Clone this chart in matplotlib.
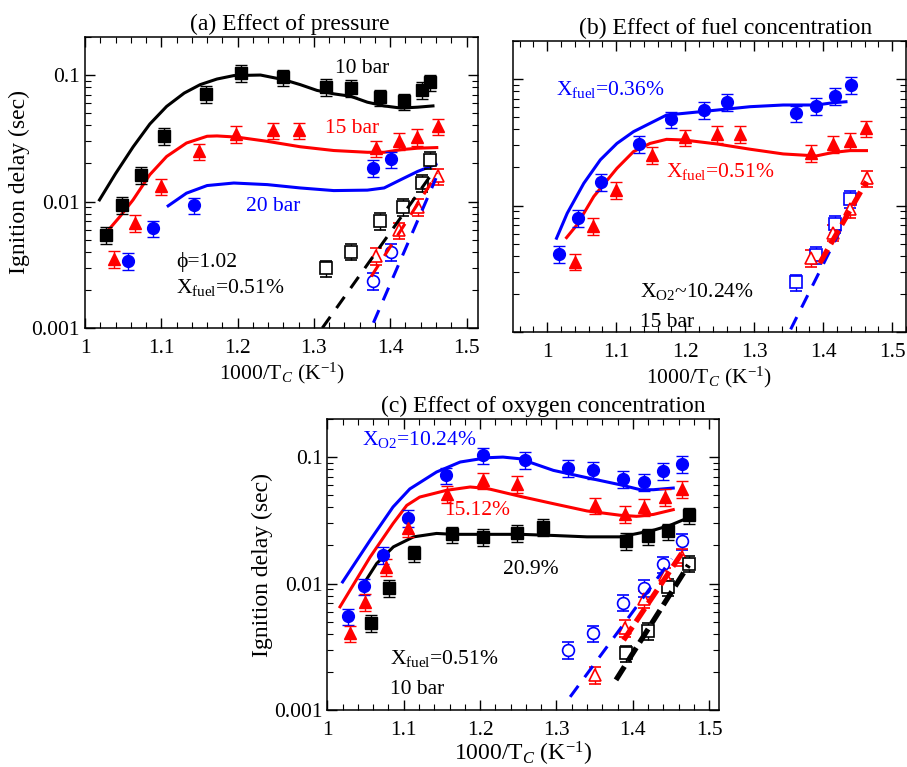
import matplotlib
matplotlib.use('Agg')
import matplotlib.pyplot as plt
import numpy as np
from matplotlib.ticker import MultipleLocator, LogLocator, NullFormatter, FixedLocator

plt.rcParams.update({
    'font.family': ['Liberation Serif', 'DejaVu Serif'],
    'font.size': 15.5,
    'mathtext.fontset': 'custom',
    'mathtext.rm': 'Liberation Serif',
    'mathtext.it': 'Liberation Serif:italic',
})

# ---- (a) Effect of pressure ----
a10_x = [1.027, 1.048, 1.074, 1.104, 1.158, 1.204, 1.260, 1.316, 1.349, 1.387, 1.4175, 1.441, 1.452]
a10_y = [0.00544, 0.0094, 0.0163, 0.033, 0.071, 0.104, 0.096, 0.081, 0.079, 0.0665, 0.062, 0.0765, 0.0875]
a15_x = [1.038, 1.065, 1.099, 1.150, 1.198, 1.246, 1.280, 1.3816, 1.411, 1.435, 1.463]
a15_y = [0.0035, 0.00675, 0.01315, 0.0249, 0.0341, 0.0365, 0.0365, 0.0264, 0.0302, 0.0323, 0.0393]
a20_x = [1.057, 1.089, 1.1425, 1.377, 1.401]
a20_y = [0.00339, 0.00615, 0.0093, 0.01836, 0.0216]
a10_lo_x = [1.316, 1.348, 1.387, 1.417, 1.441, 1.452]
a10_lo_y = [0.00297, 0.00402, 0.00703, 0.0091, 0.0141, 0.0214]
a15_lo_x = [1.382, 1.411, 1.436, 1.463]
a15_lo_y = [0.00372, 0.00593, 0.00908, 0.0158]
a20_lo_x = [1.377, 1.401]
a20_lo_y = [0.00237, 0.0040]

a10_sim_x = [1.019, 1.04, 1.063, 1.085, 1.107, 1.13, 1.151, 1.173, 1.195, 1.23, 1.26, 1.282, 1.304, 1.326, 1.348, 1.37, 1.392, 1.414, 1.436, 1.456]
a10_sim_y = [0.0103, 0.0166, 0.027, 0.041, 0.0565, 0.072, 0.084, 0.093, 0.099, 0.100, 0.092, 0.084, 0.0756, 0.071, 0.068, 0.061, 0.057, 0.0548, 0.0557, 0.057]
a15_sim_x = [1.027, 1.045, 1.063, 1.085, 1.107, 1.133, 1.16, 1.173, 1.199, 1.239, 1.282, 1.326, 1.37, 1.392, 1.414, 1.436, 1.461]
a15_sim_y = [0.0056, 0.0075, 0.0103, 0.0163, 0.0227, 0.029, 0.0328, 0.033, 0.0323, 0.0299, 0.0271, 0.0253, 0.0245, 0.0245, 0.0257, 0.0264, 0.0267]
a20_sim_x = [1.109, 1.133, 1.16, 1.195, 1.239, 1.282, 1.326, 1.37, 1.392, 1.414, 1.436, 1.46]
a20_sim_y = [0.00924, 0.01164, 0.01337, 0.014, 0.0136, 0.0128, 0.0122, 0.0123, 0.0128, 0.0149, 0.0173, 0.0197]
a10_lt_x = [1.311, 1.458]
a10_lt_y = [0.001, 0.0177]
a15_lt_x = [1.375, 1.462]
a15_lt_y = [0.00255, 0.0168]
a20_lt_x = [1.378, 1.46]
a20_lt_y = [0.0011, 0.0153]

# ---- (b) Effect of fuel concentration ----
b36_x = [1.017, 1.045, 1.0776, 1.1325, 1.179, 1.2265, 1.26, 1.361, 1.39, 1.4166, 1.44]
b36_y = [0.00415, 0.00803, 0.01545, 0.0307, 0.0481, 0.0569, 0.0662, 0.0536, 0.0612, 0.0738, 0.0897]
b51_x = [1.04, 1.0665, 1.10, 1.152, 1.20, 1.246, 1.28, 1.383, 1.4135, 1.4386, 1.4627]
b51_y = [0.00361, 0.00692, 0.0133, 0.0251, 0.0346, 0.0368, 0.0368, 0.0262, 0.0307, 0.0326, 0.0408]
b36_lo_x = [1.3605, 1.39, 1.4169, 1.4395]
b36_lo_y = [0.00247, 0.00408, 0.00716, 0.0113]
b51_lo_x = [1.383, 1.4135, 1.4386, 1.464]
b51_lo_y = [0.00384, 0.00612, 0.00935, 0.0164]

b36_sim_x = [1.0135, 1.029, 1.053, 1.077, 1.101, 1.125, 1.149, 1.173, 1.198, 1.246, 1.294, 1.342, 1.39, 1.414, 1.433]
b36_sim_y = [0.00552, 0.0087, 0.015, 0.023, 0.031, 0.0384, 0.0447, 0.052, 0.0536, 0.0569, 0.0605, 0.0624, 0.0624, 0.065, 0.0662]
b51_sim_x = [1.028, 1.043, 1.0675, 1.101, 1.125, 1.149, 1.173, 1.198, 1.246, 1.294, 1.342, 1.39, 1.414, 1.439, 1.4627]
b51_sim_y = [0.00558, 0.00703, 0.0118, 0.0197, 0.0267, 0.031, 0.0334, 0.033, 0.0307, 0.0279, 0.0256, 0.0247, 0.0263, 0.0272, 0.0272]
b36_lt_x = [1.3528, 1.4347]
b36_lt_y = [0.00105, 0.0082]
b51_lt_x = [1.395, 1.4627]
b51_lt_y = [0.0035, 0.0155]

# ---- (c) Effect of oxygen concentration ----
c10_x = [1.0266, 1.048, 1.0734, 1.106, 1.156, 1.204, 1.259, 1.3157, 1.3485, 1.387, 1.415, 1.439, 1.464]
c10_y = [0.00552, 0.00953, 0.0168, 0.0332, 0.0716, 0.103, 0.0953, 0.0819, 0.0794, 0.0674, 0.0635, 0.0776, 0.0885]
c15_x = [1.0297, 1.049, 1.0764, 1.106, 1.157, 1.204, 1.249, 1.3507, 1.39, 1.415, 1.442, 1.464]
c15_y = [0.00403, 0.00713, 0.01355, 0.0275, 0.0512, 0.0655, 0.0616, 0.0415, 0.0357, 0.0403, 0.0483, 0.0562]
c21_x = [1.0572, 1.0812, 1.1135, 1.163, 1.204, 1.248, 1.282, 1.391, 1.4205, 1.446, 1.473]
c21_y = [0.0049, 0.00924, 0.0173, 0.0245, 0.0234, 0.0251, 0.028, 0.0217, 0.0236, 0.0259, 0.0347]
c10_lo_x = [1.3157, 1.3485, 1.387, 1.415, 1.439, 1.464]
c10_lo_y = [0.00298, 0.00403, 0.00708, 0.00924, 0.0142, 0.0216]
c15_lo_x = [1.3507, 1.39, 1.415, 1.442, 1.464]
c15_lo_y = [0.00189, 0.00447, 0.0076, 0.01164, 0.0162]
c21_lo_x = [1.391, 1.4205, 1.446, 1.473]
c21_lo_y = [0.0028, 0.00423, 0.0094, 0.0144]

c10_sim_x = [1.02, 1.056, 1.086, 1.108, 1.143, 1.174, 1.209, 1.23, 1.252, 1.296, 1.34, 1.383, 1.41, 1.427, 1.453]
c10_sim_y = [0.0103, 0.022, 0.0403, 0.056, 0.0762, 0.0914, 0.0988, 0.100, 0.097, 0.0785, 0.0687, 0.0605, 0.0552, 0.0552, 0.0569]
c15_sim_x = [1.0166, 1.056, 1.086, 1.104, 1.121, 1.156, 1.187, 1.209, 1.252, 1.296, 1.34, 1.383, 1.405, 1.427, 1.453]
c15_sim_y = [0.00655, 0.0162, 0.0298, 0.0415, 0.0483, 0.0546, 0.058, 0.0565, 0.049, 0.0428, 0.0375, 0.0347, 0.034, 0.0352, 0.0384]
c21_sim_x = [1.045, 1.0646, 1.0865, 1.113, 1.143, 1.165, 1.209, 1.253, 1.296, 1.34, 1.383, 1.405, 1.427, 1.449, 1.475]
c21_sim_y = [0.0094, 0.0144, 0.0195, 0.0234, 0.0249, 0.0245, 0.0245, 0.0245, 0.024, 0.0234, 0.0234, 0.0248, 0.0264, 0.0289, 0.0336]
c10_lt_x = [1.318, 1.451]
c10_lt_y = [0.00127, 0.0157]
c15_lt_x = [1.388, 1.464]
c15_lt_y = [0.00357, 0.0173]
c21_lt_x = [1.378, 1.473]
c21_lt_y = [0.00173, 0.014]

BLUE = '#0000ff'
RED = '#ff0000'
BLACK = '#000000'
XLABEL = r'1000/T$_{C}$ (K$^{\mathregular{-1}}$)'


def pts(ax, x, y, marker, color, filled=True):
    y = np.asarray(y)
    ax.errorbar(x, y, yerr=0.15 * y, fmt=marker, color=color, ecolor=color,
                mfc=color if filled else 'white', mec=color,
                ms=9 if marker != 'o' else 8.5, mew=1.0 if filled else 1.2,
                capsize=4, elinewidth=1, capthick=1, zorder=3)


def sim(ax, x, y, color):
    ax.plot(x, y, '-', color=color, lw=2.2, zorder=2)


def low(ax, x, y, color, thick=False):
    if thick:
        ax.plot(x, y, '--', color=color, lw=3.8, dashes=(3.0, 1.2), zorder=4)
    else:
        ax.plot(x, y, '--', color=color, lw=2.2, dashes=(4.5, 3.5), zorder=4)


def style(ax, xmin, xmax, ylabels=True, xlabel_size=15.5, xlabel_pad=2):
    ax.set_yscale('log')
    ax.set_xlim(xmin, xmax)
    ax.set_ylim(0.001, 0.2)
    ax.xaxis.set_major_locator(FixedLocator([1.0, 1.1, 1.2, 1.3, 1.4, 1.5]))
    ax.xaxis.set_minor_locator(MultipleLocator(0.02))
    ax.yaxis.set_major_locator(FixedLocator([0.001, 0.01, 0.1]))
    ax.yaxis.set_minor_locator(LogLocator(base=10, subs=np.arange(2, 10)))
    ax.yaxis.set_minor_formatter(NullFormatter())
    ax.set_xticklabels(['1', '1.1', '1.2', '1.3', '1.4', '1.5'])
    if ylabels:
        ax.set_yticklabels(['0.001', '0.01', '0.1'])
        ax.set_ylabel('Ignition delay (sec)', fontsize=17, labelpad=1)
    else:
        ax.set_yticklabels([])
    ax.set_xlabel(XLABEL, fontsize=xlabel_size, labelpad=xlabel_pad)
    ax.tick_params(which='both', direction='in', top=True, right=True, labelsize=15.5)
    ax.tick_params(which='major', length=7, width=1)
    ax.tick_params(which='minor', length=4, width=0.8)
    ax.tick_params(axis='x', pad=8)
    for s in ax.spines.values():
        s.set_linewidth(1.1)


fig = plt.figure(figsize=(9.07, 7.67), dpi=100)
ax_a = fig.add_axes([0.0937, 0.5724, 0.4333, 0.3794])
ax_b = fig.add_axes([0.5653, 0.5671, 0.4336, 0.3794])
ax_c = fig.add_axes([0.3609, 0.0743, 0.4319, 0.3794])

# (a)
ax = ax_a
sim(ax, a10_sim_x, a10_sim_y, BLACK)
sim(ax, a15_sim_x, a15_sim_y, RED)
sim(ax, a20_sim_x, a20_sim_y, BLUE)
pts(ax, a10_x, a10_y, 's', BLACK)
pts(ax, a15_x, a15_y, '^', RED)
pts(ax, a20_x, a20_y, 'o', BLUE)
pts(ax, a10_lo_x, a10_lo_y, 's', BLACK, filled=False)
pts(ax, a15_lo_x, a15_lo_y, '^', RED, filled=False)
pts(ax, a20_lo_x, a20_lo_y, 'o', BLUE, filled=False)
low(ax, a10_lt_x, a10_lt_y, BLACK)
low(ax, a15_lt_x, a15_lt_y, RED)
low(ax, a20_lt_x, a20_lt_y, BLUE)
style(ax, 1.0, 1.515)
ax.text(1.363, 0.113, '10 bar', color=BLACK, ha='center', va='center')
ax.text(1.35, 0.038, '15 bar', color=RED, ha='center', va='center')
ax.text(1.246, 0.0092, '20 bar', color=BLUE, ha='center', va='center')
ax.text(1.119, 0.0033, 'ϕ=1.02', color=BLACK, ha='left', va='center')
ax.text(1.119, 0.0021, r'X$_\mathrm{fuel}$=0.51%', color=BLACK, ha='left', va='center')
ax.set_title('(a) Effect of pressure', fontsize=17, pad=5, x=0.52)

# (b)
ax = ax_b
sim(ax, b36_sim_x, b36_sim_y, BLUE)
sim(ax, b51_sim_x, b51_sim_y, RED)
pts(ax, b36_x, b36_y, 'o', BLUE)
pts(ax, b51_x, b51_y, '^', RED)
pts(ax, b36_lo_x, b36_lo_y, 's', BLUE, filled=False)
pts(ax, b51_lo_x, b51_lo_y, '^', RED, filled=False)
low(ax, b36_lt_x, b36_lt_y, BLUE)
low(ax, b51_lt_x, b51_lt_y, RED, thick=True)
style(ax, 0.95, 1.52, ylabels=False)
ax.text(1.013, 0.083, r'X$_\mathrm{fuel}$=0.36%', color=BLUE, ha='left', va='center')
ax.text(1.172, 0.0187, r'X$_\mathrm{fuel}$=0.51%', color=RED, ha='left', va='center')
ax.text(1.135, 0.0021, r'X$_\mathrm{O2}$~10.24%', color=BLACK, ha='left', va='center')
ax.text(1.135, 0.0012, '15 bar', color=BLACK, ha='left', va='center')
ax.set_title('(b) Effect of fuel concentration', fontsize=17, pad=5, x=0.54)

# (c)
ax = ax_c
sim(ax, c10_sim_x, c10_sim_y, BLUE)
sim(ax, c15_sim_x, c15_sim_y, RED)
sim(ax, c21_sim_x, c21_sim_y, BLACK)
pts(ax, c10_x, c10_y, 'o', BLUE)
pts(ax, c15_x, c15_y, '^', RED)
pts(ax, c21_x, c21_y, 's', BLACK)
pts(ax, c10_lo_x, c10_lo_y, 'o', BLUE, filled=False)
pts(ax, c15_lo_x, c15_lo_y, '^', RED, filled=False)
pts(ax, c21_lo_x, c21_lo_y, 's', BLACK, filled=False)
low(ax, c10_lt_x, c10_lt_y, BLUE)
low(ax, c15_lt_x, c15_lt_y, RED, thick=True)
low(ax, c21_lt_x, c21_lt_y, BLACK, thick=True)
style(ax, 1.0, 1.513, xlabel_size=17, xlabel_pad=0)
ax.text(1.046, 0.137, r'X$_\mathrm{O2}$=10.24%', color=BLUE, ha='left', va='center')
ax.text(1.153, 0.0375, '15.12%', color=RED, ha='left', va='center')
ax.text(1.23, 0.0129, '20.9%', color=BLACK, ha='left', va='center')
ax.text(1.082, 0.00256, r'X$_\mathrm{fuel}$=0.51%', color=BLACK, ha='left', va='center')
ax.text(1.082, 0.00146, '10 bar', color=BLACK, ha='left', va='center')
ax.set_title('(c) Effect of oxygen concentration', fontsize=17, pad=5, x=0.55)

fig.savefig('out.png', dpi=100)
